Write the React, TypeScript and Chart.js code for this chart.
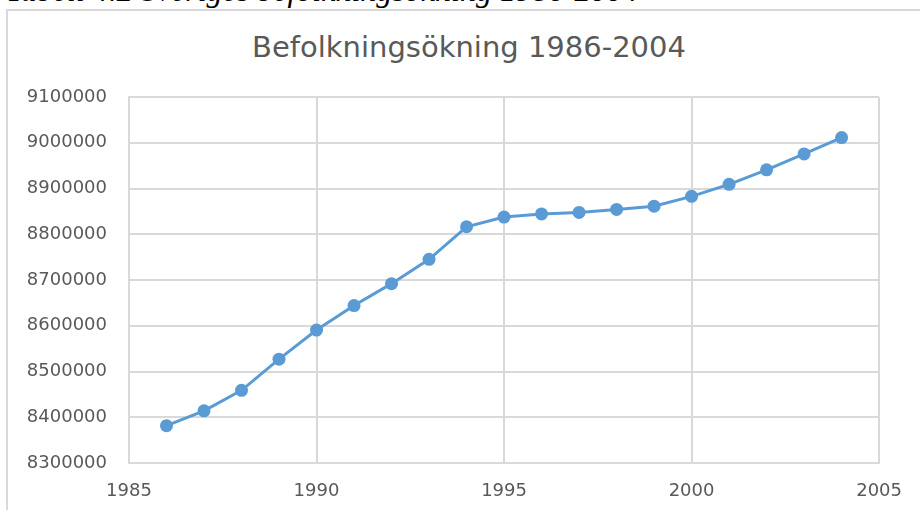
import React, { useEffect, useRef } from "react";
import { Chart, registerables } from "chart.js";

Chart.register(...registerables);

const years = [1986, 1987, 1988, 1989, 1990, 1991, 1992, 1993, 1994, 1995, 1996, 1997, 1998, 1999, 2000, 2001, 2002, 2003, 2004];
const population = [8381515, 8414083, 8458888, 8527036, 8590630, 8644119, 8692013, 8745109, 8816381, 8837496, 8844499, 8847625, 8854322, 8861426, 8882792, 8909128, 8940788, 8975670, 9011392];
const chartTitle = "Befolkningsökning 1986-2004";
const caption = "Tabell 4.2 Sveriges befolkningsökning 1986-2004";
const xMin = 1985;
const xMax = 2005;
const xStep = 5;
const yMin = 8300000;
const yMax = 9100000;
const yStep = 100000;

export default function App() {
  const ref = useRef<HTMLCanvasElement | null>(null);
  useEffect(() => {
    if (!ref.current) return;
    const grid = "#d9d9d9";
    const tickColor = "#595959";
    const chart = new Chart(ref.current, {
      type: "line",
      data: {
        datasets: [
          {
            data: years.map((y, i) => ({ x: y, y: population[i] })),
            borderColor: "#5b9bd5",
            backgroundColor: "#5b9bd5",
            borderWidth: 3,
            pointRadius: 6.5,
            pointBorderWidth: 0,
            pointBackgroundColor: "#5b9bd5",
            tension: 0,
          },
        ],
      },
      options: {
        animation: false,
        responsive: true,
        maintainAspectRatio: false,
        layout: { padding: { left: 8, right: 40, top: 97, bottom: 0 } },
        plugins: {
          legend: { display: false },
          tooltip: { enabled: false },
          title: { display: false },
        },
        scales: {
          x: {
            type: "linear",
            min: xMin,
            max: xMax,
            ticks: {
              stepSize: xStep,
              color: tickColor,
              font: { family: "'DejaVu Sans'", size: 18 },
              padding: 18,
              callback: (v: any) => String(v),
            },
            grid: { color: grid, lineWidth: 2, drawTicks: false },
            border: { color: grid, width: 2 },
            afterFit: (axis: any) => {
              axis.height = 47;
            },
          },
          y: {
            type: "linear",
            min: yMin,
            max: yMax,
            ticks: {
              stepSize: yStep,
              color: tickColor,
              font: { family: "'DejaVu Sans'", size: 18 },
              padding: 22,
              callback: (v: any) => String(v),
            },
            grid: { color: grid, lineWidth: 2, drawTicks: false },
            border: { color: grid, width: 2 },
            afterFit: (axis: any) => {
              axis.width = 121;
            },
          },
        },
      },
    });
    return () => chart.destroy();
  }, []);

  return (
    <div style={{ position: "fixed", left: 0, top: 0, width: 920, height: 510, overflow: "hidden", background: "#fff" }}>
      <div
        style={{
          position: "absolute",
          left: 6,
          top: -26,
          fontFamily: "'Liberation Serif', serif",
          fontStyle: "italic",
          fontSize: 32,
          lineHeight: "32px",
          whiteSpace: "nowrap",
          color: "#000",
        }}
      >
        {caption}
      </div>
      <div
        style={{
          position: "absolute",
          left: 6,
          top: 9,
          width: 940,
          height: 540,
          border: "2px solid #d9d9d9",
          boxSizing: "border-box",
        }}
      />
      <div
        style={{
          position: "absolute",
          left: 0,
          top: 30,
          width: 938,
          textAlign: "center",
          fontFamily: "'DejaVu Sans', sans-serif",
          fontSize: 29,
          lineHeight: "34px",
          color: "#595959",
          whiteSpace: "nowrap",
        }}
      >
        {chartTitle}
      </div>
      <div style={{ position: "absolute", left: 0, top: 0, width: 920, height: 510 }}>
        <canvas ref={ref} />
      </div>
    </div>
  );
}
